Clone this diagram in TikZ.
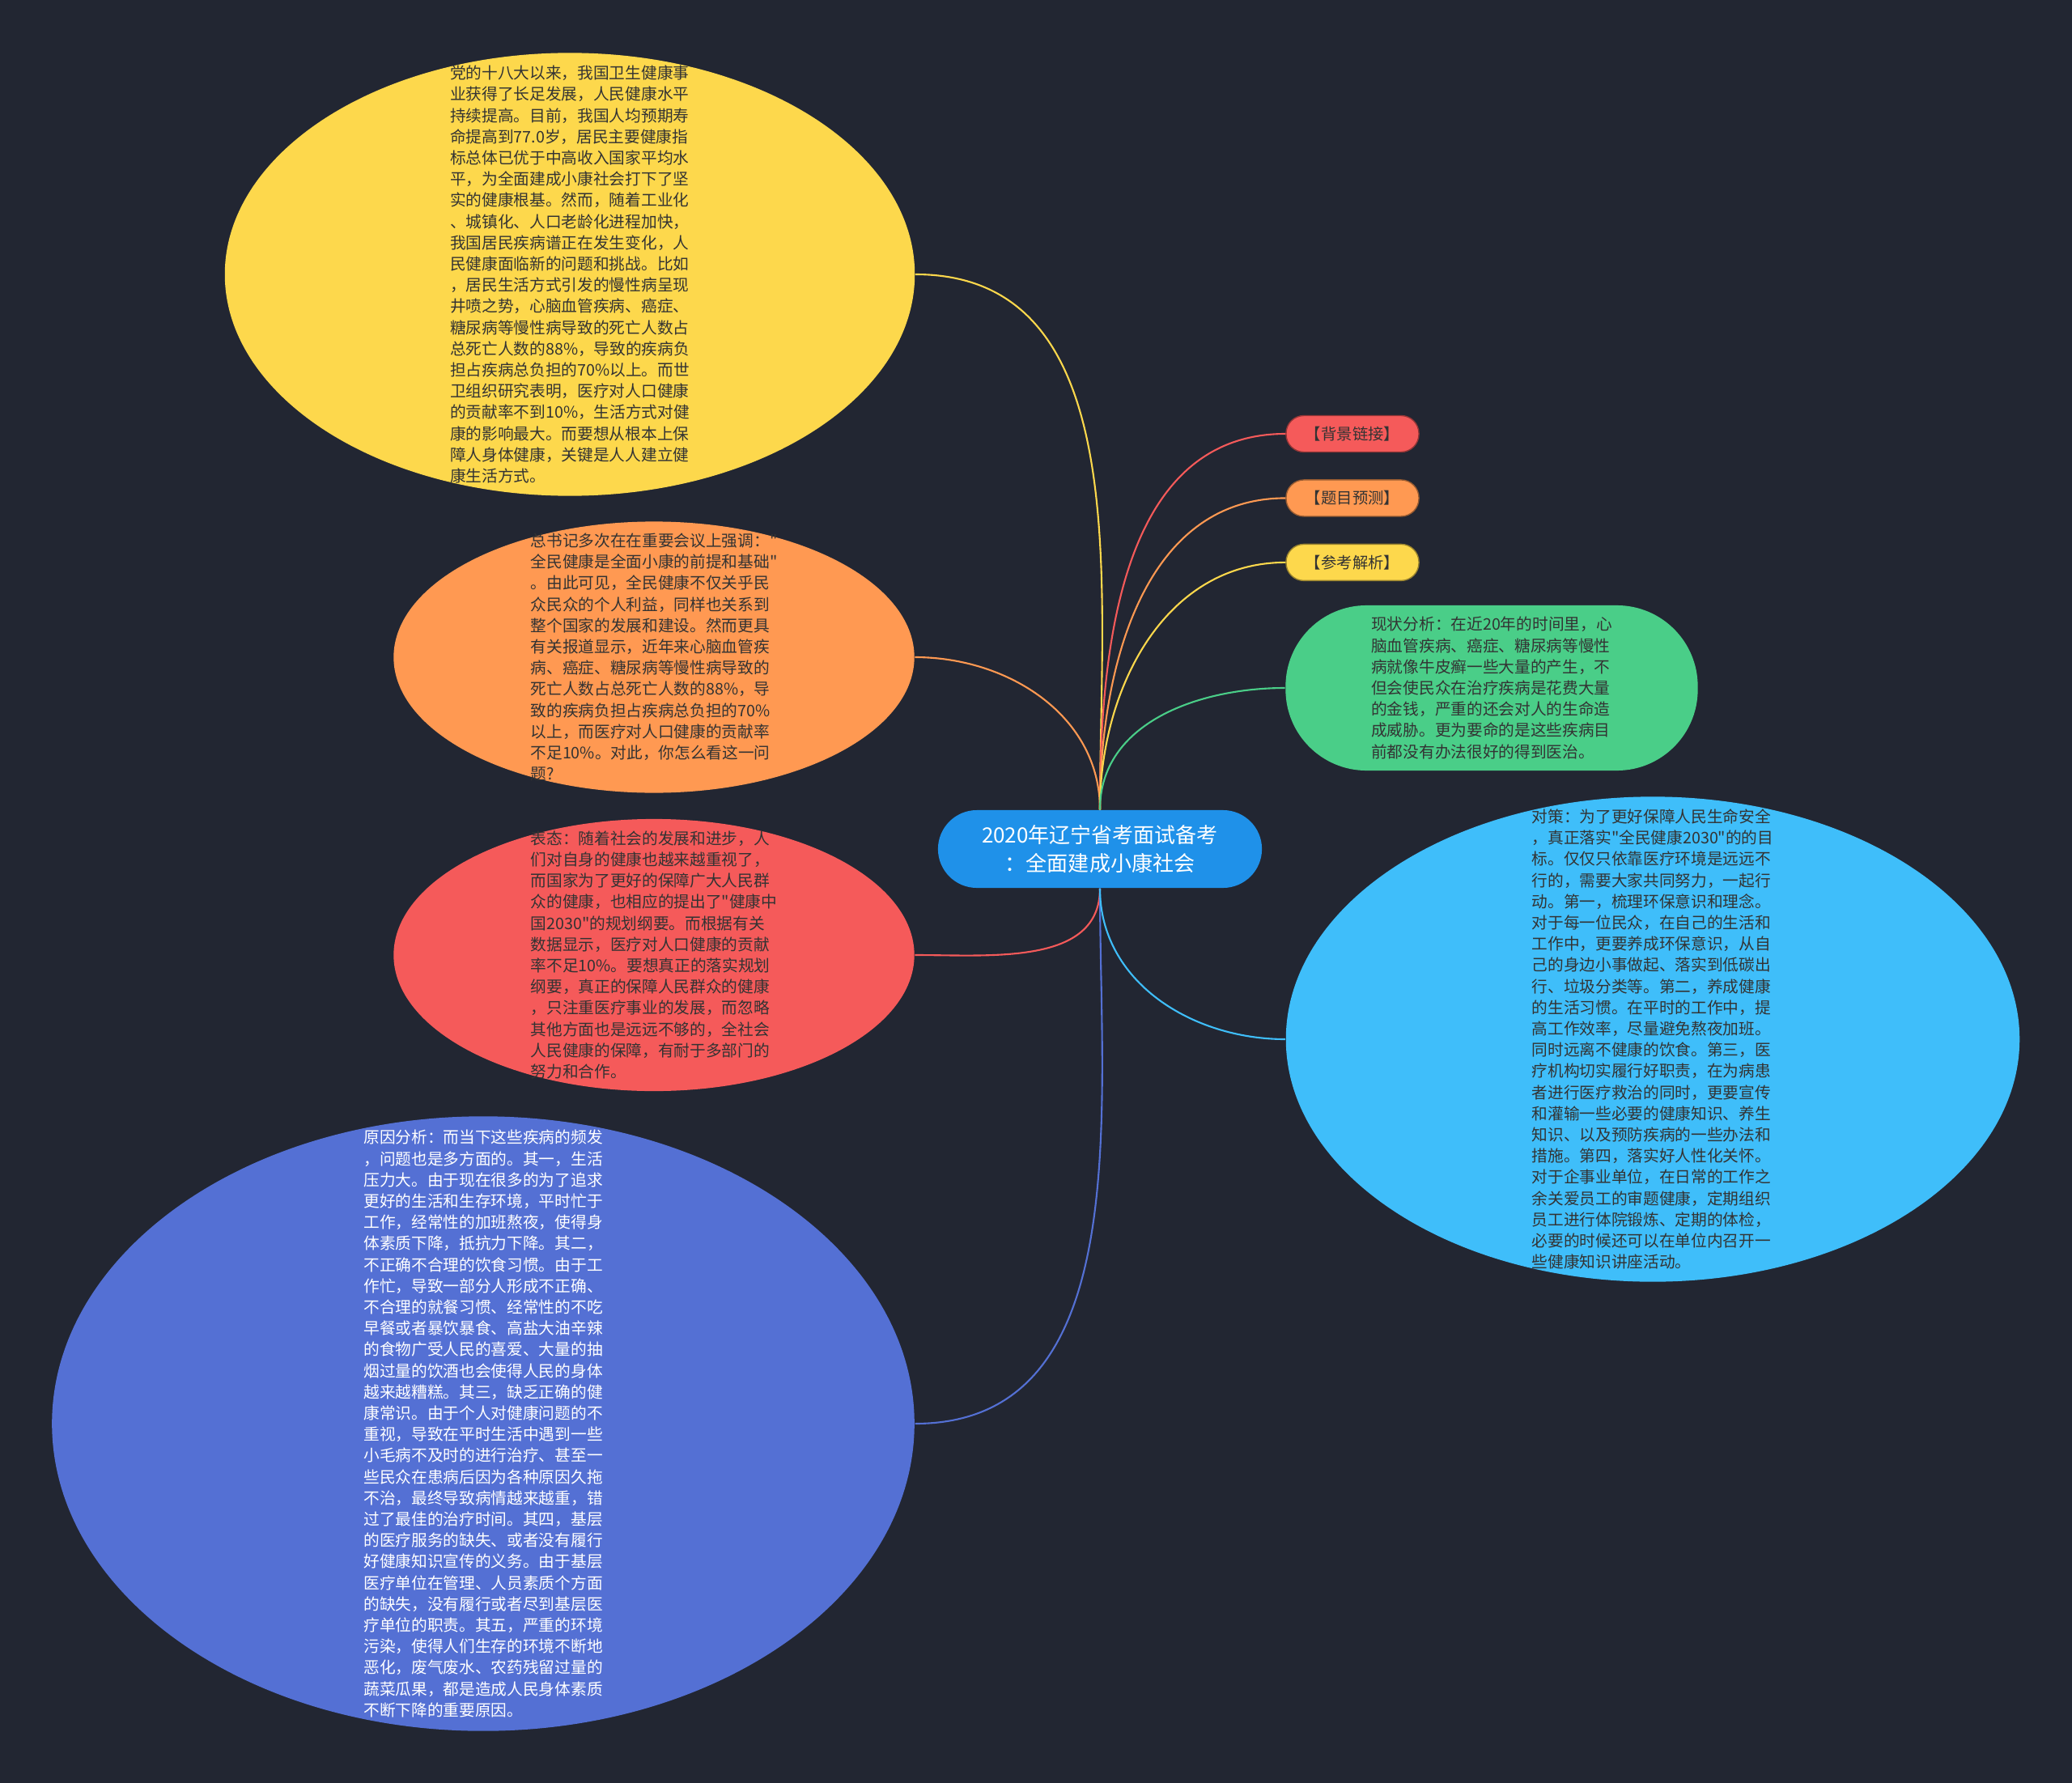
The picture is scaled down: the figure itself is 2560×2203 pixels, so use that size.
\documentclass[tikz,border=0pt]{standalone}
\usepackage{fontspec}
\newfontfamily\cjk{Noto Sans CJK SC}
\usepackage{tikz}
\usetikzlibrary{shapes.geometric, positioning}
\definecolor{bgcolor}{HTML}{222632}
\definecolor{hubcolor}{HTML}{1F91E9}
\definecolor{goldcolor}{HTML}{FDD84C}
\definecolor{peachcolor}{HTML}{FF9952}
\definecolor{rosecolor}{HTML}{F55A5A}
\definecolor{indigocolor}{HTML}{5470D4}
\definecolor{mintcolor}{HTML}{4ACE88}
\definecolor{skycolor}{HTML}{3FBEFA}
\definecolor{inkcolor}{HTML}{333333}

\begin{document}
\begin{tikzpicture}[x=0.01cm, y=-0.01cm,
  bubble/.style={ellipse, inner sep=0pt},
  blurb/.style={align=left, inner sep=0pt, text=inkcolor, font=\cjk\fontsize{5.6pt}{7.45pt}\selectfont},
  tag/.style={rectangle, rounded corners=0.22cm, minimum width=1.64cm, minimum height=0.45cm, inner sep=0pt, line width=0.4pt, text=inkcolor, font=\cjk\fontsize{5.5pt}{6.5pt}\selectfont},
  link/.style={line width=0.6pt}]

  % Background
  \fill[bgcolor] (0,0) rectangle (2560,2203);

  % Hub
  \node[rectangle, rounded corners=0.48cm, fill=hubcolor, minimum width=4cm, minimum height=0.96cm, align=center, text=white, font=\cjk\fontsize{7.4pt}{10pt}\selectfont] (hub) at (1359,1049) {2020年辽宁省考面试备考\\：全面建成小康社会};

  % Left bubbles
  \node[bubble, fill=goldcolor, minimum width=8.52cm, minimum height=5.47cm] (gold) at (704,339) {};
  \node[blurb] (goldtxt) at (gold) {党的十八大以来，我国卫生健康事\\业获得了长足发展，人民健康水平\\持续提高。目前，我国人均预期寿\\命提高到77.0岁，居民主要健康指\\标总体已优于中高收入国家平均水\\平，为全面建成小康社会打下了坚\\实的健康根基。然而，随着工业化\\、城镇化、人口老龄化进程加快，\\我国居民疾病谱正在发生变化，人\\民健康面临新的问题和挑战。比如\\，居民生活方式引发的慢性病呈现\\井喷之势，心脑血管疾病、癌症、\\糖尿病等慢性病导致的死亡人数占\\总死亡人数的88\%，导致的疾病负\\担占疾病总负担的70\%以上。而世\\卫组织研究表明，医疗对人口健康\\的贡献率不到10\%，生活方式对健\\康的影响最大。而要想从根本上保\\障人身体健康，关键是人人建立健\\康生活方式。};

  \node[bubble, fill=peachcolor, minimum width=6.43cm, minimum height=3.35cm] (peach) at (808,812) {};
  \node[blurb] (peachtxt) at (peach) {总书记多次在在重要会议上强调："\\全民健康是全面小康的前提和基础"\\。由此可见，全民健康不仅关乎民\\众民众的个人利益，同样也关系到\\整个国家的发展和建设。然而更具\\有关报道显示，近年来心脑血管疾\\病、癌症、糖尿病等慢性病导致的\\死亡人数占总死亡人数的88\%，导\\致的疾病负担占疾病总负担的70\%\\以上，而医疗对人口健康的贡献率\\不足10\%。对此，你怎么看这一问\\题?};

  \node[bubble, fill=rosecolor, minimum width=6.43cm, minimum height=3.36cm] (rose) at (808,1180) {};
  \node[blurb] (rosetxt) at (rose) {表态：随着社会的发展和进步，人\\们对自身的健康也越来越重视了，\\而国家为了更好的保障广大人民群\\众的健康，也相应的提出了"健康中\\国2030"的规划纲要。而根据有关\\数据显示，医疗对人口健康的贡献\\率不足10\%。要想真正的落实规划\\纲要，真正的保障人民群众的健康\\，只注重医疗事业的发展，而忽略\\其他方面也是远远不够的，全社会\\人民健康的保障，有耐于多部门的\\努力和合作。};

  \node[bubble, fill=indigocolor, minimum width=10.65cm, minimum height=7.59cm] (indigo) at (597,1759) {};
  \node[blurb, text=white] (indigotxt) at (indigo) {原因分析：而当下这些疾病的频发\\，问题也是多方面的。其一，生活\\压力大。由于现在很多的为了追求\\更好的生活和生存环境，平时忙于\\工作，经常性的加班熬夜，使得身\\体素质下降，抵抗力下降。其二，\\不正确不合理的饮食习惯。由于工\\作忙，导致一部分人形成不正确、\\不合理的就餐习惯、经常性的不吃\\早餐或者暴饮暴食、高盐大油辛辣\\的食物广受人民的喜爱、大量的抽\\烟过量的饮酒也会使得人民的身体\\越来越糟糕。其三，缺乏正确的健\\康常识。由于个人对健康问题的不\\重视，导致在平时生活中遇到一些\\小毛病不及时的进行治疗、甚至一\\些民众在患病后因为各种原因久拖\\不治，最终导致病情越来越重，错\\过了最佳的治疗时间。其四，基层\\的医疗服务的缺失、或者没有履行\\好健康知识宣传的义务。由于基层\\医疗单位在管理、人员素质个方面\\的缺失，没有履行或者尽到基层医\\疗单位的职责。其五，严重的环境\\污染，使得人们生存的环境不断地\\恶化，废气废水、农药残留过量的\\蔬菜瓜果，都是造成人民身体素质\\不断下降的重要原因。};

  % Right tags
  \node[tag, fill=rosecolor, draw=rosecolor!60!black] (bg) at (1671,536) {【背景链接】};
  \node[tag, fill=peachcolor, draw=peachcolor!60!black, below=0.33cm of bg] (forecast) {【题目预测】};
  \node[tag, fill=goldcolor, draw=goldcolor!60!black, below=0.33cm of forecast] (answer) {【参考解析】};

  % Right bubbles
  \node[rectangle, rounded corners=1cm, fill=mintcolor, minimum width=5.09cm, minimum height=2.04cm] (mint) at (1843,850) {};
  \node[blurb] (minttxt) at (mint) {现状分析：在近20年的时间里，心\\脑血管疾病、癌症、糖尿病等慢性\\病就像牛皮癣一些大量的产生，不\\但会使民众在治疗疾病是花费大量\\的金钱，严重的还会对人的生命造\\成威胁。更为要命的是这些疾病目\\前都没有办法很好的得到医治。};

  \node[bubble, fill=skycolor, minimum width=9.06cm, minimum height=5.99cm] (sky) at (2042,1284) {};
  \node[blurb] (skytxt) at (sky) {对策：为了更好保障人民生命安全\\，真正落实"全民健康2030"的的目\\标。仅仅只依靠医疗环境是远远不\\行的，需要大家共同努力，一起行\\动。第一，梳理环保意识和理念。\\对于每一位民众，在自己的生活和\\工作中，更要养成环保意识，从自\\己的身边小事做起、落实到低碳出\\行、垃圾分类等。第二，养成健康\\的生活习惯。在平时的工作中，提\\高工作效率，尽量避免熬夜加班。\\同时远离不健康的饮食。第三，医\\疗机构切实履行好职责，在为病患\\者进行医疗救治的同时，更要宣传\\和灌输一些必要的健康知识、养生\\知识、以及预防疾病的一些办法和\\措施。第四，落实好人性化关怀。\\对于企事业单位，在日常的工作之\\余关爱员工的审题健康，定期组织\\员工进行体院锻炼、定期的体检，\\必要的时候还可以在单位内召开一\\些健康知识讲座活动。};

  % Links
  \draw[link, goldcolor] (hub.north) to[out=90, in=0] (gold.east);
  \draw[link, peachcolor] (hub.north) to[out=90, in=0] (peach.east);
  \draw[link, rosecolor] (hub.south) to[out=-90, in=0] (rose.east);
  \draw[link, indigocolor] (hub.south) to[out=-90, in=0] (indigo.east);
  \draw[link, rosecolor] (hub.north) to[out=90, in=180] (bg.west);
  \draw[link, peachcolor] (hub.north) to[out=90, in=180] (forecast.west);
  \draw[link, goldcolor] (hub.north) to[out=90, in=180] (answer.west);
  \draw[link, mintcolor] (hub.north) to[out=90, in=180] (mint.west);
  \draw[link, skycolor] (hub.south) to[out=-90, in=180] (sky.west);

\end{tikzpicture}
\end{document}
